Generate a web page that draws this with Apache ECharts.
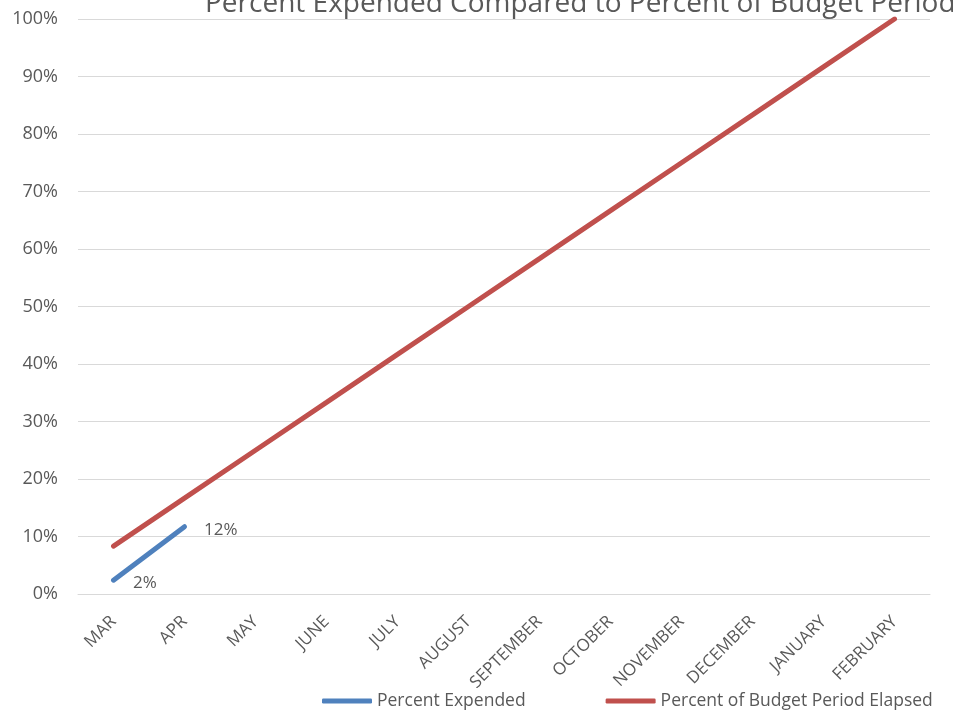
<!DOCTYPE html>
<html>
<head>
    <meta charset="utf-8">
    <script src="https://cdn.jsdelivr.net/npm/echarts@6/dist/echarts.min.js"></script>
    <style>body{margin:0;background:#fff;}</style>
</head>
<body>
<div id="main" style="width: 953px;height:719px"></div>

<script type="text/javascript">
    // months of the budget period
    var months = ['MAR','APR','MAY','JUNE','JULY','AUGUST','SEPTEMBER','OCTOBER','NOVEMBER','DECEMBER','JANUARY','FEBRUARY'];
    // percent expended, only two months so far
    var expended = [2.4, 11.7];
    // percent of budget period elapsed
    var elapsed = [8.33, 16.67, 25, 33.33, 41.67, 50, 58.33, 66.67, 75, 83.33, 91.67, 100];

    var myChart = echarts.init(document.getElementById('main'));
    var font = 'Open Sans';
    var textColor = '#595959';

    var option = {
        animation: false,
        title: {
            text: 'Percent Expended Compared to Percent of Budget Period Elapsed',
            left: 200,
            top: -15,
            textStyle: { fontFamily: font, fontSize: 28, fontWeight: 'normal', color: textColor }
        },
        legend: {
            left: 317,
            bottom: 4,
            width: 700,
            itemWidth: 50,
            itemHeight: 5,
            itemGap: 80,
            icon: 'roundRect',
            textStyle: { fontFamily: font, fontSize: 17.5, color: textColor },
            data: ['Percent Expended', 'Percent of Budget Period Elapsed']
        },
        grid: { left: 78, right: 23, top: 19, bottom: 125 },
        xAxis: {
            type: 'category',
            data: months,
            boundaryGap: true,
            axisLine: { lineStyle: { color: '#D9D9D9', width: 1 } },
            axisTick: { show: false },
            axisLabel: {
                rotate: 45,
                interval: 0,
                margin: 25,
                fontFamily: font,
                fontSize: 17,
                color: textColor
            }
        },
        yAxis: {
            type: 'value',
            min: 0,
            max: 100,
            interval: 10,
            axisLine: { show: false },
            axisTick: { show: false },
            axisLabel: {
                formatter: '{value}%',
                margin: 20,
                fontFamily: font,
                fontSize: 18,
                color: textColor
            },
            splitLine: { lineStyle: { color: '#D9D9D9', width: 1 } }
        },
        series: [
            {
                name: 'Percent Expended',
                type: 'line',
                data: expended,
                showSymbol: true,
                symbol: 'circle',
                symbolSize: 3,
                color: '#4F81BD',
                lineStyle: { width: 5, cap: 'round', color: '#4F81BD' },
                label: {
                    show: true,
                    position: 'right',
                    distance: 18,
                    offset: [0, 3],
                    formatter: function (p) { return Math.round(p.value) + '%'; },
                    fontFamily: font,
                    fontSize: 17,
                    color: textColor
                },
                z: 3
            },
            {
                name: 'Percent of Budget Period Elapsed',
                type: 'line',
                data: elapsed,
                showSymbol: false,
                symbol: 'none',
                color: '#C0504D',
                lineStyle: { width: 5, cap: 'round', color: '#C0504D' },
                z: 2
            }
        ]
    };

    option && myChart.setOption(option);
</script>
</body>
</html>
